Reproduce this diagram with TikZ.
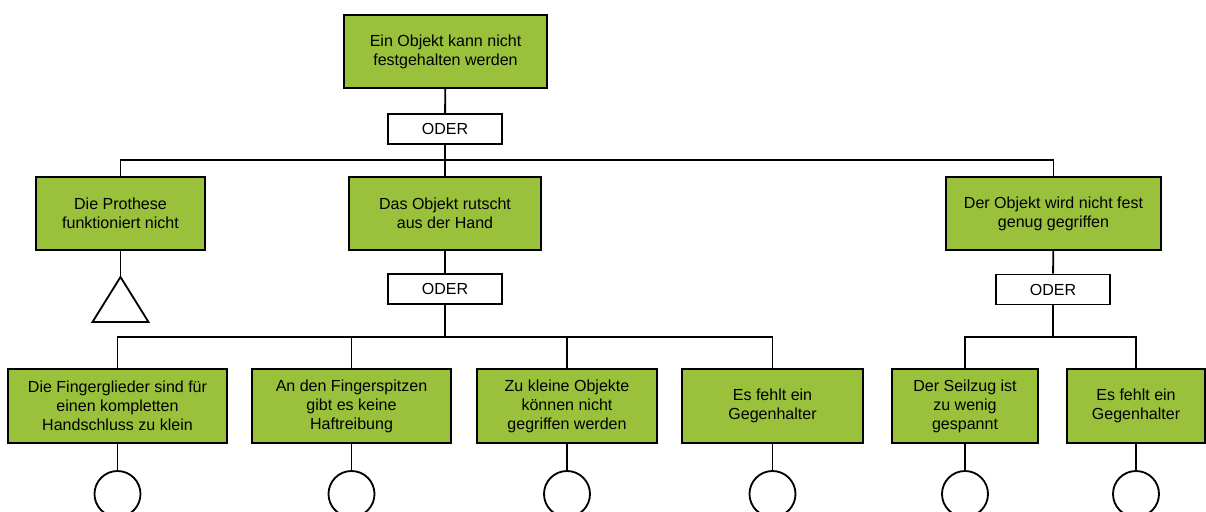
\documentclass[tikz,border=0pt]{standalone}
\usepackage{fontspec}
\setmainfont{Liberation Sans}
\usetikzlibrary{calc}
\definecolor{ftagreen}{HTML}{9AC13C}
\tikzset{
  ev/.style={draw=black,fill=ftagreen,line width=1.3pt,align=center,inner sep=2pt,minimum height=1.84cm,minimum width={#1*0.025cm}},
  gate/.style={draw=black,fill=white,line width=1.3pt,minimum width=2.85cm,minimum height=0.75cm,inner sep=0pt},
  basic/.style={circle,draw=black,fill=white,line width=1.3pt,minimum size=1.15cm,inner sep=0pt},
  ln/.style={draw=black,line width=1.3pt},
}

\begin{document}
\begin{tikzpicture}[x=0.025cm,y=-0.025cm,font=\fontsize{11.4}{13.6}\selectfont]
  \useasboundingbox (0,0) rectangle (1206,512);
  % top event
  \node[ev=203] (top) at (445.5,51.5) {Ein Objekt kann nicht\\festgehalten werden};
  \node[gate] (or1) at (445,129) {ODER};
  \coordinate (j1) at (445,160);
  % second level
  \node[ev=169] (e1) at (120.5,213.5) {Die Prothese\\funktioniert nicht};
  \node[ev=192] (e2) at (445,213.5) {Das Objekt rutscht\\aus der Hand};
  \node[ev=215] (e3) at (1053.5,213.5) {Der Objekt wird nicht fest\\genug gegriffen};
  \node[gate] (or2) at (445,289) {ODER};
  \node[gate] (or3) at (1053,289.5) {ODER};
  \coordinate (j2) at (445,337);
  \coordinate (j3) at (1053,337);
  \coordinate (tri) at (120.5,277);
  % basic events
  \node[ev=219] (b1) at (117.5,406) {Die Fingerglieder sind f\"ur\\einen kompletten\\Handschluss zu klein};
  \node[ev=199] (b2) at (351.5,406) {An den Fingerspitzen\\gibt es keine\\Haftreibung};
  \node[ev=180] (b3) at (567,406) {Zu kleine Objekte\\k\"onnen nicht\\gegriffen werden};
  \node[ev=181] (b4) at (772.5,406) {Es fehlt ein\\Gegenhalter};
  \node[ev=146] (b5) at (965,406) {Der Seilzug ist\\zu wenig\\gespannt};
  \node[ev=138] (b6) at (1136,406) {Es fehlt ein\\Gegenhalter};

  \draw[ln] (top) -- (or1);
  \draw[ln] (or1) -- (j1);
  \draw[ln] (j1) -| (e1.north);
  \draw[ln] (j1) -- (e2);
  \draw[ln] (j1) -| (e3.north);
  \draw[ln] (e3) -- (or3);
  \draw[ln] (e2) -- (or2);
  \draw[ln] (or2) -- (j2);
  \foreach \n in {1,...,4} {\draw[ln] (j2) -| (b\n.north);}
  \draw[ln] (or3) -- (j3);
  \draw[ln] (j3) -| (b5.north);
  \draw[ln] (j3) -| (b6.north);
  % transfer triangle
  \draw[ln] (e1) -- (tri);
  \draw[ln,line join=miter] (tri) -- ++(28,45) -- ++(-56,0) -- cycle;
  \foreach \n in {1,...,6} {
    \node[basic] (c\n) at (b\n.south |- 0,494) {};
    \draw[ln] (b\n) -- (c\n);
  }
\end{tikzpicture}
\end{document}
